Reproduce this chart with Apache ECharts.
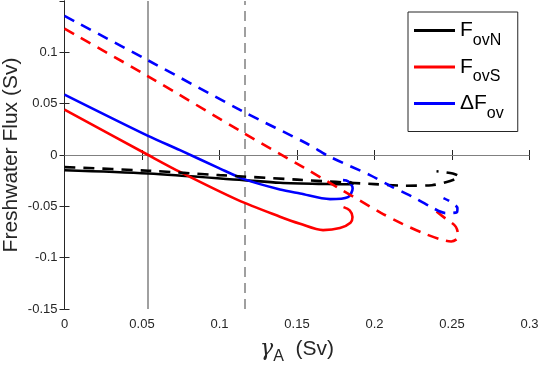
<!DOCTYPE html>
<html><head><meta charset="utf-8">
<script src="https://cdn.jsdelivr.net/npm/echarts@6/dist/echarts.min.js"></script>
<style>html,body{margin:0;padding:0;background:#fff}#c{width:540px;height:368px}</style>
</head><body><div id="c"></div>
<script>
// x tick values and y tick values
const xTicks = [0, 0.05, 0.1, 0.15, 0.2, 0.25, 0.3];
const yTicks = [-0.15, -0.1, -0.05, 0, 0.05, 0.1, 0.15];
// vertical reference lines (gamma_A, Sv)
const gammaSolidLine = 0.054;
const gammaDashedLine = 0.116;

// Solid branch
const fovN_solid = [[0,-0.0148],[0.054,-0.018],[0.1158,-0.0245],[0.139,-0.0271],[0.17,-0.0283],[0.1835,-0.0285],[0.186,-0.0278],[0.184,-0.0262]];
const fovS_solid = [[0,0.0443],[0.054,0.0],[0.0745,-0.0165],[0.112,-0.0440],[0.139,-0.0601],[0.152,-0.0670],[0.1668,-0.0732],[0.1777,-0.0712],[0.1845,-0.0660],[0.1858,-0.0605],[0.184,-0.054],[0.18,-0.0508]];
const dFov_solid = [[0,0.0588],[0.0539,0.0186],[0.0745,0.0047],[0.1,-0.0130],[0.1158,-0.0235],[0.139,-0.0336],[0.152,-0.0375],[0.1713,-0.0430],[0.1829,-0.0410],[0.1859,-0.0323],[0.1829,-0.0255],[0.1797,-0.0245]];

// Dashed branch
const fovN_dashed = [[0,-0.0118],[0.054,-0.0153],[0.1,-0.0196],[0.15,-0.0240],[0.2,-0.0284],[0.22,-0.0299],[0.237,-0.0294],[0.246,-0.0265],[0.252,-0.0235],[0.2545,-0.0211],[0.2505,-0.0180],[0.24,-0.0159]];
const fovS_dashed = [[0,0.123],[0.0539,0.0767],[0.1158,0.0212],[0.1545,-0.0124],[0.1797,-0.0347],[0.2039,-0.0561],[0.2177,-0.0668],[0.2306,-0.0756],[0.2442,-0.0829],[0.2495,-0.0842],[0.2540,-0.0800],[0.2525,-0.0700],[0.2455,-0.0615],[0.2397,-0.0547]];
const dFov_dashed = [[0,0.1355],[0.0539,0.0922],[0.1158,0.0419],[0.1563,0.0112],[0.1713,-0.0018],[0.1971,-0.0196],[0.2100,-0.0300],[0.2236,-0.0400],[0.2358,-0.0500],[0.2461,-0.0566],[0.2532,-0.0556],[0.2535,-0.0520],[0.2506,-0.0469],[0.2445,-0.0420]];

const AX = '#262626';
const chart = echarts.init(document.getElementById('c'));
const dash = [11, 8];
function solid(name, data, color){
  return {name, type:'line', data, showSymbol:false, symbol:'none', z:5, smooth:0.3,
    lineStyle:{color, width:2.6}, itemStyle:{color}};
}
function dashed(name, data, color){
  return {name, type:'line', data, showSymbol:false, symbol:'none', z:6, smooth:0.3,
    lineStyle:{color, width:2.6, type:dash, cap:'butt'}, itemStyle:{color}};
}
const rich = {
  f:{fontSize:21, fontFamily:'Liberation Sans', color:'#000', lineHeight:30},
  s:{fontSize:16, fontFamily:'Liberation Sans', color:'#000', padding:[20,0,0,0]}
};
const labelMap = {'FovN':'{f|F}{s|ovN}','FovS':'{f|F}{s|ovS}','dFov':'{f|ΔF}{s|ov}'};
const option = {
  animation:false,
  grid:{left:64.5, right:10.5, top:1, bottom:59, containLabel:false, outerBoundsMode:'none'},
  xAxis:[{type:'value', min:0, max:0.3, interval:0.05,
    axisLine:{lineStyle:{color:AX,width:1}}, axisTick:{inside:true,length:5,lineStyle:{color:AX}},
    axisLabel:{color:AX, fontSize:13, fontFamily:'Liberation Sans', margin:9},
    splitLine:{show:false},
    name:'{g|γ}{a|A}{t|  (Sv)}', nameLocation:'middle', nameGap:24, nameMoveOverlap:false,
    nameTextStyle:{rich:{
      g:{fontSize:22, fontFamily:'DejaVu Serif', color:AX, fontStyle:'italic'},
      a:{fontSize:16, fontFamily:'Liberation Sans', color:AX, padding:[16,0,0,0]},
      t:{fontSize:21, fontFamily:'Liberation Sans', color:AX}}}},
   {type:'value', min:0, max:0.3, interval:0.05, position:'top',
    axisLine:{show:true,lineStyle:{color:AX,width:1}}, axisTick:{inside:true,length:5,lineStyle:{color:AX}},
    axisLabel:{show:false}, splitLine:{show:false}}],
  yAxis:[{type:'value', min:-0.15, max:0.15, interval:0.05,
    axisLine:{show:true,lineStyle:{color:AX,width:1}}, axisTick:{show:true,inside:true,length:5,lineStyle:{color:AX}},
    axisLabel:{color:AX, fontSize:13, fontFamily:'Liberation Sans', margin:7, showMaxLabel:false},
    splitLine:{show:false},
    name:'Freshwater Flux (Sv)', nameLocation:'middle', nameGap:43, nameMoveOverlap:false,
    nameTextStyle:{fontSize:21, fontFamily:'Liberation Sans', color:AX}},
   {type:'value', min:-0.15, max:0.15, interval:0.05, position:'right',
    axisLine:{show:true,lineStyle:{color:AX,width:1}}, axisTick:{show:true,inside:true,length:5,lineStyle:{color:AX}},
    axisLabel:{show:false}, splitLine:{show:false}}],
  legend:{orient:'vertical', left:408, top:12, data:['FovN','FovS','dFov'],
    icon:'rect', itemWidth:41, itemHeight:3, itemGap:8, padding:[8,14,10,6],
    borderColor:AX, borderWidth:1, backgroundColor:'#fff',
    formatter:n=>labelMap[n], textStyle:{rich}},
  series:[
    {name:'ref', type:'line', data:[], z:1,
     markLine:{silent:true, symbol:'none', label:{show:false}, animation:false, precision:5,
       data:[
         {xAxis:gammaSolidLine, lineStyle:{color:'#808080', width:1.5, type:'solid'}},
         {xAxis:gammaDashedLine, lineStyle:{color:'#808080', width:1.5, type:[10,6]}},
         {yAxis:0, lineStyle:{color:'#808080', width:1, type:'solid'}}
       ]}},
    solid('FovN', fovN_solid, '#000000'),
    dashed('FovN_d', fovN_dashed, '#000000'),
    solid('FovS', fovS_solid, '#ff0000'),
    dashed('FovS_d', fovS_dashed, '#ff0000'),
    solid('dFov', dFov_solid, '#0000ff'),
    dashed('dFov_d', dFov_dashed, '#0000ff')
  ]
};
chart.setOption(option);
</script>
</body></html>
